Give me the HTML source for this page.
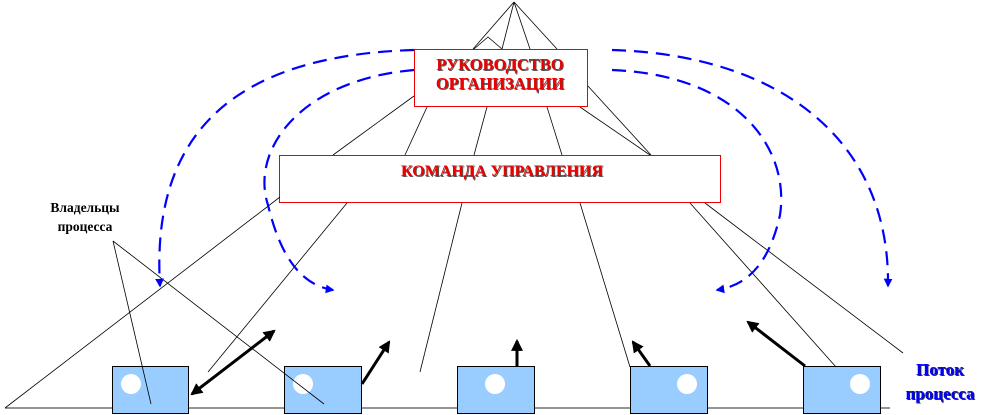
<!DOCTYPE html>
<html><head><meta charset="utf-8"><style>
html,body{margin:0;padding:0;background:#fff;width:991px;height:415px;overflow:hidden}
svg{display:block}
.r{font-family:"Liberation Serif",serif;font-weight:bold;fill:#e00;font-size:16.5px;text-anchor:middle}
.sh{fill:#555}
</style></head><body>
<svg width="991" height="415" viewBox="0 0 991 415" xmlns="http://www.w3.org/2000/svg">
<defs>
<marker id="bk" markerWidth="4" markerHeight="4" refX="3.3" refY="2" orient="auto" markerUnits="strokeWidth"><path d="M0,0 L4,2 L0,4 z" fill="#000"/></marker>
<marker id="bks" markerWidth="4" markerHeight="4" refX="0.7" refY="2" orient="auto" markerUnits="strokeWidth"><path d="M4,0 L0,2 L4,4 z" fill="#000"/></marker>
<marker id="bl" markerWidth="4" markerHeight="4" refX="3.3" refY="2" orient="auto" markerUnits="strokeWidth"><path d="M0,0 L4,2 L0,4 z" fill="#00f"/></marker>
</defs>
<g stroke="#000" stroke-width="0.8" fill="none">
<line x1="514" y1="2" x2="473" y2="49"/><line x1="514" y1="2" x2="502" y2="49"/>
<line x1="514" y1="2" x2="530" y2="49"/><line x1="514" y1="2" x2="557" y2="49"/>
<polyline points="474,49 488,37 502,49"/>
<line x1="414" y1="96" x2="333" y2="155"/><line x1="427" y1="107" x2="405" y2="155"/>
<line x1="487" y1="107" x2="474" y2="155"/><line x1="547" y1="107" x2="562" y2="155"/>
<line x1="580" y1="107" x2="650" y2="155"/><line x1="587" y1="85" x2="651" y2="155"/>
<line x1="347" y1="203" x2="208" y2="372"/>
<line x1="462" y1="203" x2="420" y2="372"/><line x1="580" y1="203" x2="630" y2="367"/>
<line x1="690" y1="203" x2="836" y2="367"/><line x1="705" y1="203" x2="903" y2="353"/>
</g>
<line x1="5" y1="408" x2="890" y2="408" stroke="#555" stroke-width="1.2"/>
<rect x="414.5" y="49.5" width="173" height="57" fill="#fff" stroke="#e00"/>
<rect x="279.5" y="155.5" width="441" height="47" fill="#fff" stroke="#e00"/>
<g stroke="#000" stroke-width="0.8">
<line x1="280" y1="197" x2="5" y2="408"/>
</g>
<g fill="#99ccff" stroke="#000" stroke-width="1">
<rect x="112.5" y="366.5" width="76" height="47"/><rect x="284.5" y="366.5" width="77" height="47"/>
<rect x="457.5" y="366.5" width="77" height="47"/><rect x="630.5" y="366.5" width="77" height="47"/>
<rect x="803.5" y="366.5" width="77" height="47"/>
</g>
<g fill="#fff"><circle cx="131" cy="384" r="10"/><circle cx="303" cy="384" r="10"/><circle cx="495" cy="384" r="10"/><circle cx="687" cy="384" r="10"/><circle cx="860" cy="384" r="10"/></g>
<g stroke="#000" stroke-width="0.8"><line x1="113" y1="241" x2="151" y2="404"/><line x1="113" y1="241" x2="324" y2="404"/></g>
<g stroke="#000" stroke-width="3" fill="none">
<line x1="192" y1="394" x2="274" y2="331" marker-end="url(#bk)" marker-start="url(#bks)"/>
<line x1="362" y1="384" x2="389" y2="342" marker-end="url(#bk)"/>
<line x1="517" y1="366" x2="517" y2="341" marker-end="url(#bk)"/>
<line x1="650" y1="366" x2="633" y2="342" marker-end="url(#bk)"/>
<line x1="805" y1="366" x2="748" y2="322" marker-end="url(#bk)"/>
</g>
<g stroke="#00f" stroke-width="2.2" fill="none" stroke-dasharray="14,8">
<path d="M414,50 C250,55 150,120 160,286" marker-end="url(#bl)"/>
<path d="M414,70 C300,80 250,150 268,205 C280,255 300,285 333,290" marker-end="url(#bl)"/>
<path d="M612,50 C780,55 890,140 888,286" marker-end="url(#bl)"/>
<path d="M612,70 C740,75 790,150 780,215 C770,260 750,285 717,290" marker-end="url(#bl)"/>
</g>
<text class="r sh" x="501" y="71">РУКОВОДСТВО</text><text class="r" x="500" y="70">РУКОВОДСТВО</text>
<text class="r sh" x="501" y="90">ОРГАНИЗАЦИИ</text><text class="r" x="500" y="89">ОРГАНИЗАЦИИ</text>
<text class="r sh" x="503" y="177" style="font-size:16px">КОМАНДА УПРАВЛЕНИЯ</text><text class="r" x="502" y="176" style="font-size:16px">КОМАНДА УПРАВЛЕНИЯ</text>
<g font-family="Liberation Serif,serif" font-weight="bold" font-size="13.5" text-anchor="middle" fill="#000">
<text x="85" y="212">Владельцы</text><text x="85" y="231">процесса</text></g>
<g font-family="Liberation Serif,serif" font-weight="bold" font-size="17" text-anchor="middle">
<text x="941" y="376" fill="#224">Поток</text><text x="940" y="375" fill="#00f">Поток</text>
<text x="941" y="400" fill="#224">процесса</text><text x="940" y="399" fill="#00f">процесса</text></g>
</svg>
</body></html>
